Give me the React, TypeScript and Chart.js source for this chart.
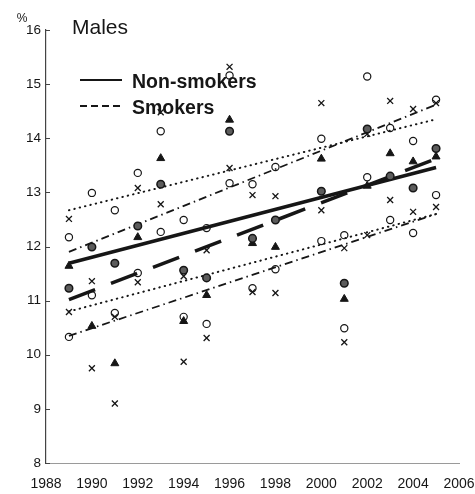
import { useEffect, useRef } from "react";
import { Chart, registerables } from "chart.js";

Chart.register(...registerables);

// Survey years with estimates (no survey in 1999)
const years = [1989, 1990, 1991, 1992, 1993, 1994, 1995, 1996, 1997, 1998, 2000, 2001, 2002, 2003, 2004, 2005];

// Non-smokers: estimate (filled circle) and its upper / lower limits (open circles)
const nonSmokers = [11.23, 11.99, 11.69, 12.38, 13.15, 11.56, 11.42, 14.13, 12.15, 12.49, 13.02, 11.32, 14.17, 13.3, 13.08, 13.81];
const nonSmokersUpper = [12.17, 12.99, 12.67, 13.36, 14.13, 12.49, 12.34, 15.16, 13.15, 13.47, 13.99, 12.21, 15.14, 14.19, 13.95, 14.71];
const nonSmokersLower = [10.33, 11.1, 10.77, 11.51, 12.27, 10.7, 10.57, 13.17, 11.23, 11.58, 12.1, 10.49, 13.28, 12.49, 12.25, 12.95];

// Smokers: estimate (triangle) and its upper / lower limits (crosses)
const smokers = [11.64, 10.53, 9.84, 12.17, 13.63, 10.62, 11.1, 14.34, 12.06, 11.99, 13.62, 11.03, 13.12, 13.72, 13.57, 13.66];
const smokersUpper = [12.51, 11.36, 10.7, 13.08, 14.48, 11.45, 11.93, 15.32, 12.95, 12.93, 14.65, 11.97, 14.08, 14.69, 14.54, 14.65];
const smokersLower = [10.79, 9.75, 9.1, 11.34, 12.78, 9.87, 10.31, 13.45, 11.16, 11.14, 12.67, 10.23, 12.21, 12.86, 12.64, 12.73];

// Linear trends and their bands, given at the first and last survey year
const trendYears = [1989, 2005];
const nonSmokersTrend = [11.69, 13.46];
const nonSmokersBandUpper = [12.67, 14.35];
const nonSmokersBandLower = [10.8, 12.6];
const smokersTrend = [11.02, 13.62];
const smokersBandUpper = [11.9, 14.62];
const smokersBandLower = [10.35, 12.6];

// Axis ticks
const xTickValues = [1988, 1990, 1992, 1994, 1996, 1998, 2000, 2002, 2004, 2006];
const yTickValues = [8, 9, 10, 11, 12, 13, 14, 15, 16];

const title = "Males";
const unitLabel = "%";
const legendLabels = ["Non-smokers", "Smokers"];

const FONT = "'Liberation Sans', Arial, sans-serif";
const INK = "#161616";

const toPoints = (xs: number[], ys: number[]) => xs.map((x, i) => ({ x, y: ys[i] }));

const markers = (ys: number[], style: any) => ({
  data: toPoints(years, ys),
  showLine: false,
  order: 0,
  ...style,
});

const trendLine = (ys: number[], style: any) => ({
  data: toPoints(trendYears, ys),
  showLine: true,
  pointRadius: 0,
  pointHoverRadius: 0,
  borderColor: INK,
  fill: false,
  order: 1,
  ...style,
});

const decorations = {
  id: "decorations",
  afterDraw(chart: any) {
    const { ctx, chartArea, scales } = chart;
    const y = scales.y;
    ctx.save();

    // inward tick marks on the value axis
    ctx.strokeStyle = "#444";
    ctx.lineWidth = 1;
    yTickValues.forEach((v) => {
      const py = Math.round(y.getPixelForValue(v)) + 0.5;
      ctx.beginPath();
      ctx.moveTo(chartArea.left, py);
      ctx.lineTo(chartArea.left + 4, py);
      ctx.stroke();
    });

    // unit and title
    ctx.fillStyle = INK;
    ctx.textBaseline = "middle";
    ctx.textAlign = "center";
    ctx.font = `12px ${FONT}`;
    ctx.fillText(unitLabel, 22, 19);
    ctx.textAlign = "left";
    ctx.font = `21px ${FONT}`;
    ctx.fillText(title, 72, 28);

    // legend
    const rows = [
      { label: legendLabels[0], dash: [] as number[], y: 80 },
      { label: legendLabels[1], dash: [7, 4], y: 106 },
    ];
    rows.forEach((r) => {
      ctx.setLineDash(r.dash);
      ctx.lineWidth = 2;
      ctx.strokeStyle = INK;
      ctx.beginPath();
      ctx.moveTo(80, r.y);
      ctx.lineTo(122, r.y);
      ctx.stroke();
      ctx.setLineDash([]);
      ctx.font = `bold 19.5px ${FONT}`;
      ctx.fillText(r.label, 132, r.y + 3);
    });

    ctx.restore();
  },
};

export default function App() {
  const canvasRef = useRef<HTMLCanvasElement | null>(null);

  useEffect(() => {
    const canvas = canvasRef.current;
    if (!canvas) return;

    const chart = new Chart(canvas, {
      type: "scatter",
      data: {
        datasets: [
          markers(nonSmokers, {
            pointStyle: "circle",
            pointRadius: 3.8,
            backgroundColor: "#5c5c5c",
            borderColor: INK,
            borderWidth: 1.5,
          }),
          markers(smokers, {
            pointStyle: "triangle",
            pointRadius: 4.6,
            backgroundColor: INK,
            borderColor: INK,
            borderWidth: 1,
          }),
          markers(nonSmokersUpper, {
            pointStyle: "circle",
            pointRadius: 3.6,
            backgroundColor: "rgba(255,255,255,0)",
            borderColor: INK,
            borderWidth: 1.2,
          }),
          markers(nonSmokersLower, {
            pointStyle: "circle",
            pointRadius: 3.6,
            backgroundColor: "rgba(255,255,255,0)",
            borderColor: INK,
            borderWidth: 1.2,
          }),
          markers(smokersUpper, {
            pointStyle: "crossRot",
            pointRadius: 4.2,
            borderColor: INK,
            borderWidth: 1.3,
          }),
          markers(smokersLower, {
            pointStyle: "crossRot",
            pointRadius: 4.2,
            borderColor: INK,
            borderWidth: 1.3,
          }),
          trendLine(nonSmokersTrend, { borderWidth: 3.5 }),
          trendLine(smokersTrend, { borderWidth: 3.5, borderDash: [28, 17] }),
          trendLine(nonSmokersBandUpper, { borderWidth: 2, borderDash: [0.5, 5], borderCapStyle: "round" }),
          trendLine(nonSmokersBandLower, { borderWidth: 2, borderDash: [0.5, 5], borderCapStyle: "round" }),
          trendLine(smokersBandUpper, { borderWidth: 1.8, borderDash: [8, 4, 1.5, 4] }),
          trendLine(smokersBandLower, { borderWidth: 1.8, borderDash: [8, 4, 1.5, 4] }),
        ],
      },
      options: {
        animation: false,
        responsive: false,
        devicePixelRatio: 1,
        layout: { padding: { top: 30, right: 16, left: 0, bottom: 0 } },
        plugins: {
          legend: { display: false },
          tooltip: { enabled: false },
        },
        scales: {
          x: {
            type: "linear",
            min: xTickValues[0],
            max: xTickValues[xTickValues.length - 1],
            afterBuildTicks: (scale: any) => {
              scale.ticks = xTickValues.map((value) => ({ value }));
            },
            ticks: {
              callback: (v: any) => String(v),
              font: { family: FONT, size: 14 },
              color: INK,
              padding: 13,
              maxRotation: 0,
              autoSkip: false,
            },
            grid: { display: false, drawTicks: false },
            border: { display: true, color: "#9a9a9a", width: 1 },
            afterFit: (scale: any) => {
              scale.height = 31;
              // the end labels may overhang the plot edges
              scale.paddingLeft = 0;
              scale.paddingRight = 0;
            },
          },
          y: {
            type: "linear",
            min: yTickValues[0],
            max: yTickValues[yTickValues.length - 1],
            afterBuildTicks: (scale: any) => {
              scale.ticks = yTickValues.map((value) => ({ value }));
            },
            ticks: {
              callback: (v: any) => String(v),
              font: { family: FONT, size: 13.5 },
              color: INK,
              padding: 5,
              autoSkip: false,
            },
            grid: { display: false, drawTicks: false },
            border: { display: true, color: "#444", width: 1.2 },
            afterFit: (scale: any) => {
              scale.width = 46;
              scale.paddingTop = 0;
              scale.paddingBottom = 0;
            },
          },
        },
      },
      plugins: [decorations],
    });

    return () => chart.destroy();
  }, []);

  return (
    <div style={{ position: "fixed", left: 0, top: 0, width: 475, height: 494, background: "#fff" }}>
      <canvas ref={canvasRef} width={475} height={494} style={{ display: "block", width: 475, height: 494 }} />
    </div>
  );
}
